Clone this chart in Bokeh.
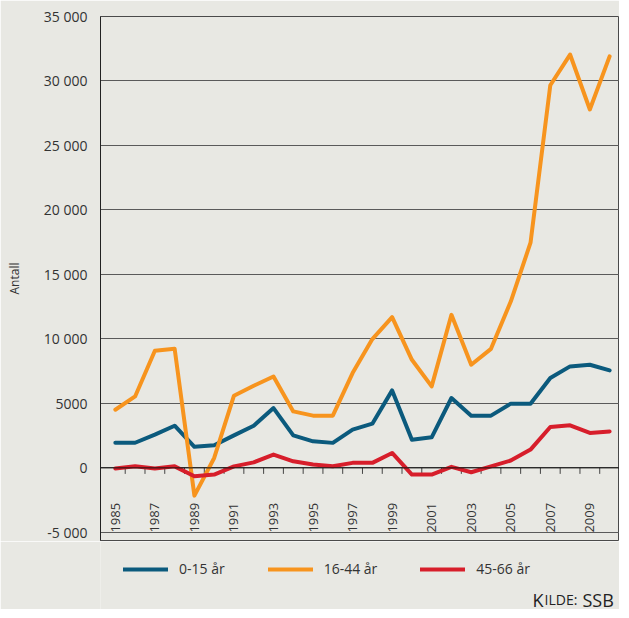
import math
from bokeh.plotting import figure
from bokeh.layouts import column
from bokeh.models import FixedTicker, Legend, LegendItem, Label, Range1d, Span
from bokeh.core.properties import value
from bokeh.embed import file_html
from bokeh.resources import INLINE

# ---- data ----
years = list(range(1985, 2011))
age_0_15 = [1950, 1950, 2580, 3270, 1630, 1750, 2520, 3270, 4640, 2520, 2060, 1940, 2970,
            3430, 6010, 2190, 2370, 5420, 4050, 4050, 4980, 4980, 6970, 7870, 8000, 7560]
age_16_44 = [4510, 5540, 9080, 9230, -2150, 770, 5600, 6370, 7090, 4380, 4050, 4050, 7350,
             9990, 11690, 8380, 6320, 11870, 8000, 9230, 12900, 17460, 29670, 32050, 27790, 31910]
age_45_66 = [-50, 120, -50, 120, -650, -520, 120, 430, 1030, 510, 260, 120, 390,
             390, 1160, -520, -520, 80, -340, 120, 570, 1420, 3170, 3300, 2710, 2830]
series_names = ["0-15 år", "16-44 år", "45-66 år"]
series_colors = ["#0b5a7d", "#f7941e", "#d71e2b"]
y_ticks = [-5000, 0, 5000, 10000, 15000, 20000, 25000, 30000, 35000]
y_tick_labels = ["-5 000", "0", "5000", "10 000", "15 000", "20 000", "25 000", "30 000", "35 000"]
x_label_years = [y for y in years if y % 2 == 1]
x_label_text = [str(y) for y in x_label_years]
x_boundaries = [y + 0.5 for y in years[:-1]]
y_title = "Antall"
source_parts = ["K", "ILDE:", "SSB"]   # "Kilde: SSB" in small caps

FONT = "Open Sans"
BG = "#e8e8e3"
TXT = "#333333"

Y0, Y1 = -5630, 35000
X0, X1 = 1984.25, 2010.5
FRAME_W, FRAME_H = 519, 524
LEFT = 100

p = figure(frame_width=FRAME_W, frame_height=FRAME_H, output_backend="svg", toolbar_location=None,
           x_range=Range1d(X0, X1), y_range=Range1d(Y0, Y1),
           min_border_left=LEFT, min_border_right=0, min_border_top=16, min_border_bottom=1,
           background_fill_color=BG, border_fill_color=BG)
p.outline_line_color = "#4a4a4a"
p.outline_line_width = 1

# y axis
p.yaxis.ticker = FixedTicker(ticks=y_ticks)
p.yaxis.major_label_overrides = {t: s for t, s in zip(y_ticks, y_tick_labels)}
p.yaxis.major_tick_out = 0
p.yaxis.major_tick_in = 0
p.yaxis.minor_tick_out = 0
p.yaxis.minor_tick_in = 0
p.yaxis.axis_line_color = "#222222"
p.yaxis.major_label_text_font = FONT
p.yaxis.major_label_text_font_size = "14px"
p.yaxis.major_label_text_color = TXT
p.yaxis.major_label_standoff = 13
p.yaxis.axis_label = y_title
p.yaxis.axis_label_text_font = FONT
p.yaxis.axis_label_text_font_size = "12px"
p.yaxis.axis_label_text_font_style = "normal"
p.yaxis.axis_label_text_color = TXT
p.yaxis.axis_label_standoff = 18

# grid
p.xgrid.visible = False
p.ygrid.ticker = FixedTicker(ticks=y_ticks)
p.ygrid.grid_line_color = "#5a5a5a"
p.ygrid.grid_line_width = 1

# x axis drawn on the zero line
p.xaxis.visible = False
p.add_layout(Span(location=0, dimension="width", line_color="#111111", line_width=1))
tick_len = 6 * (Y1 - Y0) / FRAME_H
p.segment(x0=x_boundaries, y0=[0] * len(x_boundaries), x1=x_boundaries,
          y1=[-tick_len] * len(x_boundaries), line_color="#444444", line_width=1)
p.text(x=x_label_years, y=[0] * len(x_label_years), text=x_label_text, angle=math.pi / 2,
       y_offset=35, text_align="right", text_baseline="middle",
       text_font=value(FONT), text_font_size=value("13px"), text_color=TXT)

all_series = [age_0_15, age_16_44, age_45_66]
for ys, c in zip(all_series, series_colors):
    p.line(years, ys, line_color=c, line_width=4, line_join="round", line_cap="round")

# ---- legend + source strip below the chart ----
FOOT_H = 68
f = figure(frame_width=FRAME_W, frame_height=FOOT_H, output_backend="svg", toolbar_location=None,
           x_range=Range1d(0, 1), y_range=Range1d(0, 1),   # series fall outside: only legend swatches show
           x_axis_location=None, y_axis_location=None,
           min_border_left=LEFT, min_border_right=0, min_border_top=0, min_border_bottom=0,
           background_fill_color=BG, border_fill_color=BG)
f.outline_line_color = None
f.grid.visible = False
leg_renderers = [f.line(years, ys, line_color=c, line_width=4, line_cap="round")
                 for ys, c in zip(all_series, series_colors)]
legend = Legend(items=[LegendItem(label=n, renderers=[r]) for n, r in zip(series_names, leg_renderers)],
                orientation="horizontal", location=(23, 31), spacing=43,
                glyph_width=45, glyph_height=16, label_height=16, label_standoff=11,
                margin=0, padding=0, border_line_color=None, background_fill_alpha=0,
                label_text_font=FONT, label_text_font_size="14px", label_text_color=TXT)
f.add_layout(legend, "center")

src_x = [432, 444, 482]
src_size = ["18px", "14px", "18px"]
for txt, xs, fs in zip(source_parts, src_x, src_size):
    f.add_layout(Label(x=xs, y=10, x_units="screen", y_units="screen", text=txt,
                       text_align="left", text_baseline="alphabetic",
                       text_font=FONT, text_font_size=fs, text_color="#222222"))

open("out.html", "w").write(file_html(column(p, f, spacing=0), INLINE))
